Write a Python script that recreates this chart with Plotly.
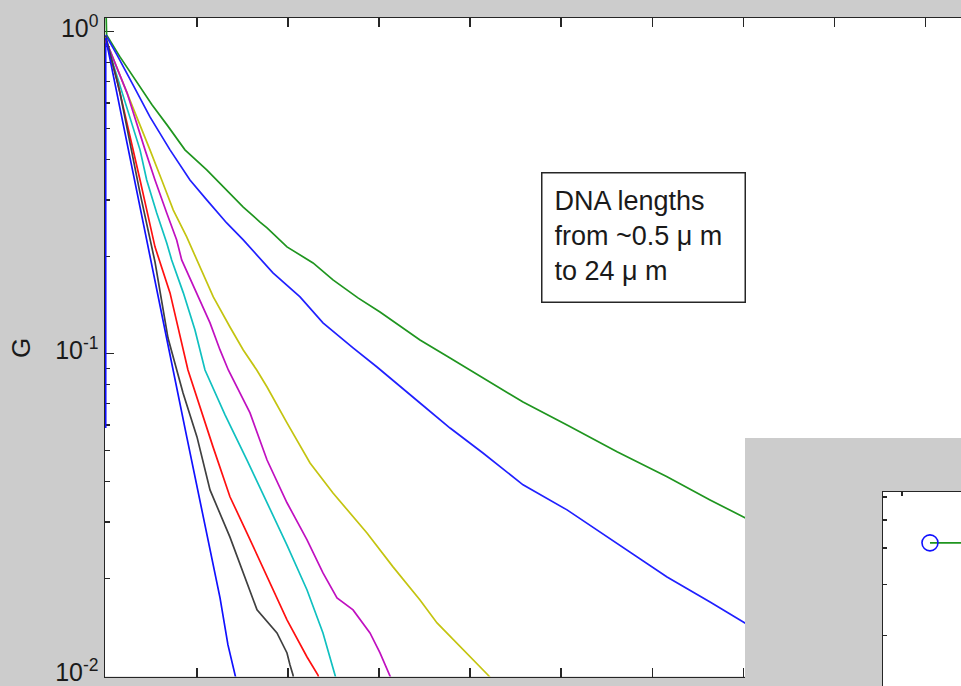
import plotly.graph_objects as go

# ---------------- data ----------------
t_green = [0, 0.01, 0.157, 0.300, 0.508, 0.673, 0.870, 1.109, 1.328, 1.510, 1.694, 1.771, 1.990, 2.276,
           2.495, 2.769, 3.011, 3.450, 3.780, 4.141, 4.581, 5.064, 5.613, 6.162, 6.634, 7.017, 7.292]
g_green = [1.3, 0.976, 0.834, 0.723, 0.592, 0.513, 0.429, 0.372, 0.322, 0.285, 0.256, 0.2455, 0.2144, 0.1911,
           0.1693, 0.1489, 0.1346, 0.1102, 0.0969, 0.0840, 0.0707, 0.0600, 0.0495, 0.0414, 0.0351, 0.0309, 0.0283]

t_blue2 = [0, 0.124, 0.300, 0.486, 0.706, 0.925, 1.109, 1.328, 1.510, 1.694, 1.836, 2.133, 2.385, 2.715,
           2.978, 3.450, 3.780, 4.141, 4.581, 5.064, 5.613, 6.162, 6.634, 7.017, 7.292]
g_blue2 = [0.976, 0.846, 0.683, 0.543, 0.429, 0.346, 0.300, 0.2544, 0.2253, 0.1981, 0.1780, 0.1499, 0.1245, 0.1041,
           0.0908, 0.0702, 0.0587, 0.0491, 0.0391, 0.0327, 0.0258, 0.02024, 0.01693, 0.01457, 0.01318]

t_yellow = [0, 0.157, 0.486, 0.615, 0.742, 0.889, 0.999, 1.181, 1.364, 1.510, 1.658, 1.771, 1.990, 2.243,
            2.495, 2.868, 3.154, 3.450, 3.637, 3.966, 4.196, 4.273]
g_yellow = [0.942, 0.733, 0.429, 0.346, 0.279, 0.2302, 0.1953, 0.1499, 0.1209, 0.1026, 0.0889, 0.0787, 0.0609, 0.0457,
            0.0369, 0.0277, 0.02175, 0.01717, 0.01457, 0.01175, 0.01004, 0.00948]

t_magenta = [0, 0.234, 0.432, 0.541, 0.670, 0.779, 0.834, 0.999, 1.145, 1.255, 1.346, 1.584, 1.771, 1.990,
             2.210, 2.385, 2.539, 2.715, 2.901, 3.011, 3.121, 3.154]
g_magenta = [0.942, 0.645, 0.429, 0.346, 0.273, 0.2253, 0.1953, 0.1543, 0.1245, 0.1026, 0.0889, 0.0654, 0.0467, 0.0344,
             0.0264, 0.02083, 0.01742, 0.01599, 0.01356, 0.01175, 0.01004, 0.00948]

t_cyan = [0, 0.157, 0.377, 0.450, 0.560, 0.670, 0.724, 0.852, 0.980, 1.090, 1.310, 1.551, 1.771, 1.990,
          2.210, 2.385, 2.517, 2.539]
g_cyan = [0.942, 0.683, 0.429, 0.346, 0.273, 0.2205, 0.1953, 0.1543, 0.1183, 0.0889, 0.0645, 0.0467, 0.0346, 0.0254,
          0.01844, 0.01356, 0.01004, 0.00948]

t_red = [0, 0.124, 0.377, 0.541, 0.706, 0.903, 1.178, 1.364, 1.551, 1.771, 1.990, 2.210, 2.330, 2.352]
g_red = [0.942, 0.707, 0.346, 0.2144, 0.1543, 0.0889, 0.0513, 0.0359, 0.0277, 0.02024, 0.01489, 0.01142,
         0.01004, 0.00948]

t_gray = [0, 0.157, 0.377, 0.541, 0.684, 0.849, 1.002, 1.145, 1.364, 1.507, 1.661, 1.880, 1.990, 2.023,
          2.056, 2.067]
g_gray = [0.969, 0.645, 0.315, 0.1925, 0.1117, 0.0754, 0.0551, 0.0377, 0.0269, 0.02083, 0.01599, 0.01356,
          0.01175, 0.01079, 0.01004, 0.00948]

t_blue1 = [0, 0.377, 0.684, 0.892, 1.035, 1.145, 1.255, 1.342, 1.430, 1.441]
g_blue1 = [0.955, 0.289, 0.1063, 0.0547, 0.0351, 0.0249, 0.01742, 0.01245, 0.00997, 0.00948]

t_blue0 = [0, 0]
g_blue0 = [0.955, 0.0587]

# inset
inset_len = [0.5]
inset_val = [4.17]
inset_fit_len = [0.5, 1.2]
inset_fit_val = [4.17, 4.17]

y_tickvals = [0.01, 0.1, 1]
y_ticktext = ["10<sup>-2</sup>", "10<sup>-1</sup>", "10<sup>0</sup>"]
y_minor = [0.02, 0.03, 0.04, 0.05, 0.06, 0.07, 0.08, 0.09, 0.2, 0.3, 0.4, 0.5, 0.6, 0.7, 0.8, 0.9]
x_tickvals = [0, 1, 2, 3, 4, 5, 6, 7, 8, 9]
inset_y_minor = [2, 3, 4, 5, 6]
inset_x_ticks = [0, 5, 10]

box_text = "DNA lengths<br>from ~0.5 \u03bc m<br>to 24 \u03bc m"

# ---------------- figure ----------------
W, H = 961, 686
FONT = "Liberation Sans, Arial, sans-serif"
AX = "#262626"
GRAY = "#cccccc"

fig = go.Figure()

series = [
    (t_blue0, g_blue0, "#1010ff"),
    (t_green, g_green, "#1f951f"),
    (t_blue2, g_blue2, "#2020ff"),
    (t_yellow, g_yellow, "#c4c410"),
    (t_magenta, g_magenta, "#c010c0"),
    (t_cyan, g_cyan, "#10c0c0"),
    (t_red, g_red, "#ff1010"),
    (t_gray, g_gray, "#404040"),
    (t_blue1, g_blue1, "#1010ff"),
]
for tx, gy, col in series:
    fig.add_trace(go.Scatter(x=tx, y=gy, mode="lines", line=dict(color=col, width=1.7),
                             hoverinfo="skip", showlegend=False))

# gray panel subplot (empty)
fig.add_trace(go.Scatter(x=[None], y=[None], xaxis="x2", yaxis="y2", showlegend=False, hoverinfo="skip"))

# inset subplot
fig.add_trace(go.Scatter(x=inset_fit_len, y=inset_fit_val, xaxis="x3", yaxis="y3", mode="lines",
                         line=dict(color="#1f951f", width=1.7), showlegend=False, hoverinfo="skip"))
fig.add_trace(go.Scatter(x=inset_len, y=inset_val, xaxis="x3", yaxis="y3", mode="markers",
                         marker=dict(symbol="circle-open", size=16, color="#1010ff",
                                     line=dict(width=1.6, color="#1010ff")),
                         showlegend=False, hoverinfo="skip"))

x_left = 105.0
px_per_unit = 91.1
x0_range = -(105.7 - x_left) / px_per_unit
x1_range = (W - 105.7) / px_per_unit

fig.update_layout(
    width=W, height=H, autosize=False,
    margin=dict(l=0, r=0, t=0, b=0, autoexpand=False),
    paper_bgcolor=GRAY,
    plot_bgcolor="white",
    showlegend=False,
    font=dict(family=FONT, size=27, color="#1a1a1a"),
    xaxis=dict(domain=[x_left / W, 1], range=[x0_range, x1_range], tickmode="array", tickvals=x_tickvals,
               ticks="inside", ticklen=9, tickwidth=1.5, tickcolor=AX, showline=True, linecolor=AX,
               linewidth=1.5, mirror="ticks", showticklabels=False, showgrid=False, zeroline=False,
               layer="below traces", anchor="y", automargin=False),
    yaxis=dict(domain=[(H - 676.5) / H, (H - 18) / H], type="log", range=[-2.003, 0.042],
               tickmode="array", tickvals=y_tickvals, ticktext=y_ticktext,
               ticks="inside", ticklen=9, tickwidth=1.5, tickcolor=AX, showline=True, linecolor=AX,
               linewidth=1.5, showgrid=False, zeroline=False, layer="below traces", anchor="x",
               automargin=False,
               ticklabelstandoff=0, ticklabelshift=-3, ticklabeloverflow="allow",
               tickfont=dict(size=25, family=FONT, color="#1a1a1a"),
               minor=dict(tickmode="array", tickvals=y_minor, ticks="inside", ticklen=5,
                          tickwidth=1.5, tickcolor=AX, showgrid=False)),
    xaxis2=dict(domain=[745 / W, 1], range=[0, 1], visible=False, anchor="y2", automargin=False),
    yaxis2=dict(domain=[0, (H - 438) / H], range=[0, 1], visible=False, anchor="x2", automargin=False),
    xaxis3=dict(domain=[883 / W, 1], range=[-0.339, 1.054], side="top", anchor="y3",
                tickmode="array", tickvals=inset_x_ticks, ticks="inside", ticklen=4, tickwidth=1.5,
                tickcolor=AX, showline=True, linecolor=AX, linewidth=1.5, showticklabels=False,
                showgrid=False, zeroline=False, automargin=False),
    yaxis3=dict(domain=[0, (H - 492) / H], type="log", range=[0.1265, 0.7955], anchor="x3",
                tickmode="array", tickvals=inset_y_minor, ticks="inside", ticklen=4, tickwidth=1.5,
                tickcolor=AX, showline=True, linecolor=AX, linewidth=1.5, showticklabels=False,
                showgrid=False, zeroline=False, automargin=False),
    shapes=[
        dict(type="rect", xref="x2", yref="y2", x0=-1, x1=2, y0=-1, y1=2,
             fillcolor=GRAY, line=dict(width=0), layer="below"),
        dict(type="rect", xref="x3", yref="y3", x0=-5, x1=5, y0=0.001, y1=1000,
             fillcolor="white", line=dict(width=0), layer="below"),
    ],
    annotations=[
        dict(text=box_text, xref="paper", yref="paper", x=541 / W, y=(H - 171.5) / H,
             xanchor="left", yanchor="top", align="left", showarrow=False,
             font=dict(family=FONT, size=27, color="#1a1a1a"),
             bordercolor=AX, borderwidth=1.5, borderpad=12, bgcolor="white",
             width=178, height=104, valign="top"),
        dict(text="G", xref="paper", yref="paper", x=21 / W, y=(H - 348) / H,
             xanchor="center", yanchor="middle", showarrow=False, textangle=-90,
             font=dict(family=FONT, size=26, color="#1a1a1a")),
    ],
)

fig.write_html(
    "out.html",
    config={"displayModeBar": False, "staticPlot": True},
    post_script="document.body.style.margin='0px';document.body.style.padding='0px';"
                "document.body.style.background='#cccccc';document.body.style.overflow='hidden';",
)
